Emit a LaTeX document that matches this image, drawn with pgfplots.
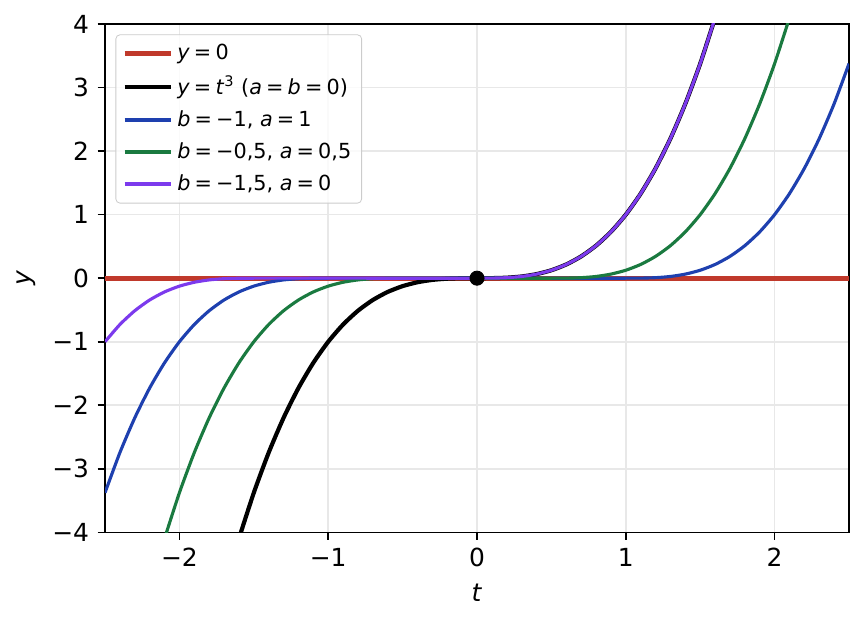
\documentclass[border=0pt]{standalone}
\usepackage{fontspec}
\setmainfont{DejaVu Sans}
\usepackage{pgfplots}
\pgfplotsset{compat=1.18}
\definecolor{cred}{HTML}{C0392B}
\definecolor{cblue}{HTML}{1E40AF}
\definecolor{cgreen}{HTML}{1A7A40}
\definecolor{cpurple}{HTML}{7C3AED}
\newcommand{\eq}{\hspace{0.2em}=\hspace{0.2em}}
\begin{document}
\fontsize{12}{14}\selectfont
\begin{tikzpicture}
\begin{axis}[
  scale only axis,
  width=357bp, height=244bp,
  xmin=-2.5, xmax=2.5, ymin=-4, ymax=4,
  xtick={-2,-1,0,1,2}, xticklabels={−2,−1,0,1,2},
  ytick={-4,-3,-2,-1,0,1,2,3,4}, yticklabels={−4,−3,−2,−1,0,1,2,3,4},
  tick align=outside, tick pos=left,
  major tick length=3.5bp,
  every tick/.style={black, line width=0.8bp},
  axis line style={line width=0.8bp},
  grid=major, grid style={black!9, line width=0.8bp},
  xlabel={\textit{t}}, ylabel={\textit{y}},
  legend cell align=left,
  legend style={at={(0,1)}, anchor=north west, xshift=5bp, yshift=-5bp,
    font=\fontsize{10}{12}\selectfont, draw=black!20, rounded corners=2bp,
    fill=white, fill opacity=0.8, text opacity=1, row sep=2bp,
    inner xsep=3bp, inner ysep=2.5bp},
  legend image code/.code={\draw[#1] (0bp,0bp) -- (22bp,0bp);},
]
\addplot[cred, line width=2.5bp] coordinates {(-2.5,0) (2.5,0)};
\addlegendentry{\textit{y}\eq 0}

\addplot[black, line width=2bp, smooth, tension=0.4] coordinates {
(-1.6,-4.096) (-1.5,-3.375) (-1.4,-2.744) (-1.3,-2.197) (-1.2,-1.728)
(-1.1,-1.331) (-1.0,-1) (-0.9,-0.729) (-0.8,-0.512) (-0.7,-0.343)
(-0.6,-0.216) (-0.5,-0.125) (-0.4,-0.064) (-0.3,-0.027) (-0.2,-0.008)
(-0.1,-0.001) (0,0) (0.1,0.001) (0.2,0.008) (0.3,0.027) (0.4,0.064)
(0.5,0.125) (0.6,0.216) (0.7,0.343) (0.8,0.512) (0.9,0.729) (1.0,1)
(1.1,1.331) (1.2,1.728) (1.3,2.197) (1.4,2.744) (1.5,3.375) (1.6,4.096)
};
\addlegendentry{\textit{y}\eq\textit{t}\textsuperscript{3} (\textit{a}\eq\textit{b}\eq 0)}

\addplot[cblue, line width=1.5bp, smooth, tension=0.4] coordinates {
(-2.5,-3.375) (-2.4,-2.744) (-2.3,-2.197) (-2.2,-1.728) (-2.1,-1.331)
(-2.0,-1) (-1.9,-0.729) (-1.8,-0.512) (-1.7,-0.343) (-1.6,-0.216)
(-1.5,-0.125) (-1.4,-0.064) (-1.3,-0.027) (-1.2,-0.008) (-1.1,-0.001)
(-1,0) (1,0) (1.1,0.001) (1.2,0.008) (1.3,0.027) (1.4,0.064) (1.5,0.125)
(1.6,0.216) (1.7,0.343) (1.8,0.512) (1.9,0.729) (2.0,1) (2.1,1.331)
(2.2,1.728) (2.3,2.197) (2.4,2.744) (2.5,3.375)
};
\addlegendentry{\textit{b}\eq −1, \textit{a}\eq 1}

\addplot[cgreen, line width=1.5bp, smooth, tension=0.4] coordinates {
(-2.1,-4.096) (-2.0,-3.375) (-1.9,-2.744) (-1.8,-2.197) (-1.7,-1.728)
(-1.6,-1.331) (-1.5,-1) (-1.4,-0.729) (-1.3,-0.512) (-1.2,-0.343)
(-1.1,-0.216) (-1.0,-0.125) (-0.9,-0.064) (-0.8,-0.027) (-0.7,-0.008)
(-0.6,-0.001) (-0.5,0) (0.5,0) (0.6,0.001) (0.7,0.008) (0.8,0.027)
(0.9,0.064) (1.0,0.125) (1.1,0.216) (1.2,0.343) (1.3,0.512) (1.4,0.729)
(1.5,1) (1.6,1.331) (1.7,1.728) (1.8,2.197) (1.9,2.744) (2.0,3.375)
(2.1,4.096)
};
\addlegendentry{\textit{b}\eq −0,5, \textit{a}\eq 0,5}

\addplot[cpurple, line width=1.5bp, smooth, tension=0.4] coordinates {
(-2.5,-1) (-2.4,-0.729) (-2.3,-0.512) (-2.2,-0.343) (-2.1,-0.216)
(-2.0,-0.125) (-1.9,-0.064) (-1.8,-0.027) (-1.7,-0.008) (-1.6,-0.001)
(-1.5,0) (0,0) (0.1,0.001) (0.2,0.008) (0.3,0.027) (0.4,0.064)
(0.5,0.125) (0.6,0.216) (0.7,0.343) (0.8,0.512) (0.9,0.729) (1.0,1)
(1.1,1.331) (1.2,1.728) (1.3,2.197) (1.4,2.744) (1.5,3.375) (1.6,4.096)
};
\addlegendentry{\textit{b}\eq −1,5, \textit{a}\eq 0}

\addplot[only marks, mark=*, mark size=3.4bp, black, forget plot] coordinates {(0,0)};
\end{axis}
\pgfresetboundingbox
\path[use as bounding box] ([shift={(-50.4bp,-44.2bp)}]current axis.south west) rectangle ([shift={(7.2bp,11.5bp)}]current axis.north east);
\end{tikzpicture}
\end{document}
